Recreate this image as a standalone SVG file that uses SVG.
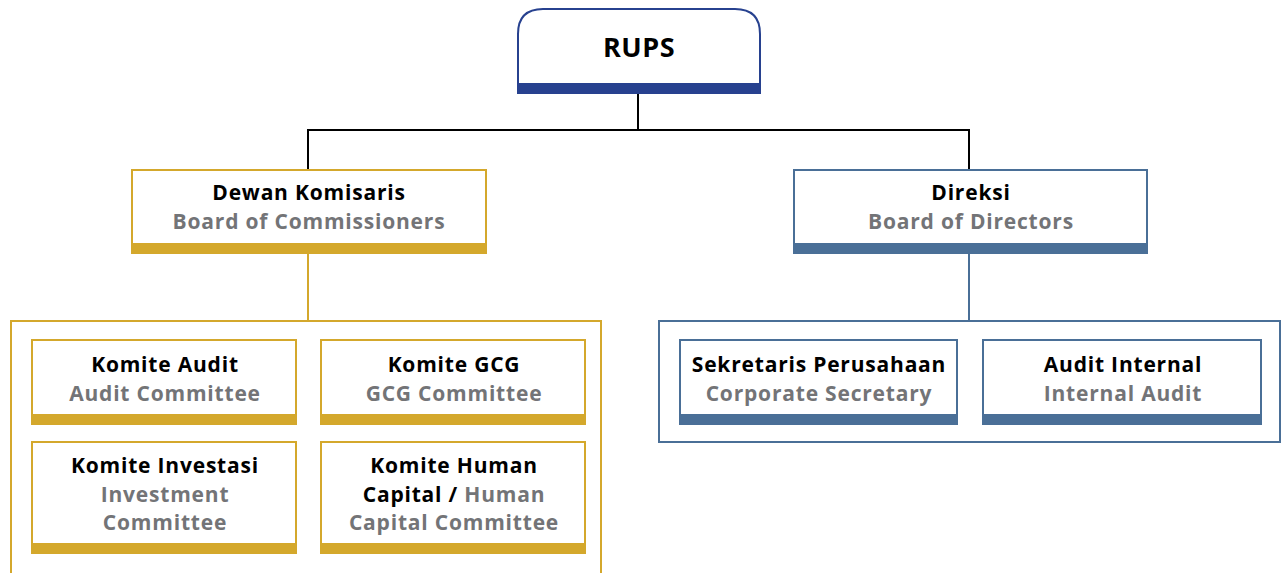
<svg xmlns="http://www.w3.org/2000/svg" width="1284" height="573" viewBox="0 0 1284 573">
<style>
text{font-family:"Open Sans","Noto Sans","Liberation Sans",sans-serif;font-weight:700;text-anchor:middle}
.t{font-size:21px;letter-spacing:0.8px;fill:#000}
.s{font-size:21px;letter-spacing:0.8px;fill:#737477}
.g{fill:#fff;stroke:#d4a82c;stroke-width:2}
.gb{fill:#d4a82c}
.b{fill:#fff;stroke:#4a6f97;stroke-width:2}
.bb{fill:#4a6f97}
.k{fill:none;stroke:#000;stroke-width:2}
</style>
<rect width="1284" height="573" fill="#fff"/>
<g id="connectors">
<path class="k" d="M638,93V130M308,130H969M308,129V169M969,129V169"/>
<path d="M308,254V321" fill="none" stroke="#d4a82c" stroke-width="2"/>
<path d="M969,254V321" fill="none" stroke="#4a6f97" stroke-width="2"/>
</g>
<g id="rups">
<path d="M518,93V34Q518,9 543,9H735Q760,9 760,34V93Z" fill="#fff" stroke="#27418f" stroke-width="2"/>
<rect x="517" y="83" width="244" height="10" fill="#27418f"/>
<text x="639" y="57" style="font-size:27px;letter-spacing:0.5px">RUPS</text>
</g>
<g id="dewan">
<rect class="g" x="132" y="170" width="354" height="80"/>
<rect class="gb" x="131" y="243" width="356" height="11"/>
<text class="t" x="309" y="200">Dewan Komisaris</text>
<text class="s" x="309" y="229">Board of Commissioners</text>
</g>
<g id="direksi">
<rect class="b" x="794" y="170" width="353" height="80"/>
<rect class="bb" x="793" y="243" width="355" height="11"/>
<text class="t" x="971" y="200">Direksi</text>
<text class="s" x="971" y="229">Board of Directors</text>
</g>
<g id="committees-frame">
<rect x="11" y="321" width="590" height="270" fill="none" stroke="#d4a82c" stroke-width="2"/>
</g>
<g id="komite-audit">
<rect class="g" x="32" y="340" width="264" height="80"/>
<rect class="gb" x="31" y="414" width="266" height="11"/>
<text class="t" x="165" y="372">Komite Audit</text>
<text class="s" x="165" y="401">Audit Committee</text>
</g>
<g id="komite-gcg">
<rect class="g" x="321" y="340" width="264" height="80"/>
<rect class="gb" x="320" y="414" width="266" height="11"/>
<text class="t" x="454" y="372">Komite GCG</text>
<text class="s" x="454" y="401">GCG Committee</text>
</g>
<g id="komite-investasi">
<rect class="g" x="32" y="442" width="264" height="106"/>
<rect class="gb" x="31" y="543" width="266" height="11"/>
<text class="t" x="165" y="473">Komite Investasi</text>
<text class="s" x="165" y="502">Investment</text>
<text class="s" x="165" y="530">Committee</text>
</g>
<g id="komite-human-capital">
<rect class="g" x="321" y="442" width="264" height="106"/>
<rect class="gb" x="320" y="543" width="266" height="11"/>
<text class="t" x="454" y="473">Komite Human</text>
<text class="t" x="454" y="502">Capital / <tspan fill="#737477">Human</tspan></text>
<text class="s" x="454" y="530">Capital Committee</text>
</g>
<g id="support-frame">
<rect x="659" y="321" width="621" height="121" fill="none" stroke="#4a6f97" stroke-width="2"/>
</g>
<g id="sekretaris">
<rect class="b" x="680" y="340" width="277" height="80"/>
<rect class="bb" x="679" y="414" width="279" height="11"/>
<text class="t" x="819" y="372">Sekretaris Perusahaan</text>
<text class="s" x="819" y="401">Corporate Secretary</text>
</g>
<g id="audit-internal">
<rect class="b" x="983" y="340" width="278" height="80"/>
<rect class="bb" x="982" y="414" width="280" height="11"/>
<text class="t" x="1123" y="372">Audit Internal</text>
<text class="s" x="1123" y="401">Internal Audit</text>
</g>
</svg>
